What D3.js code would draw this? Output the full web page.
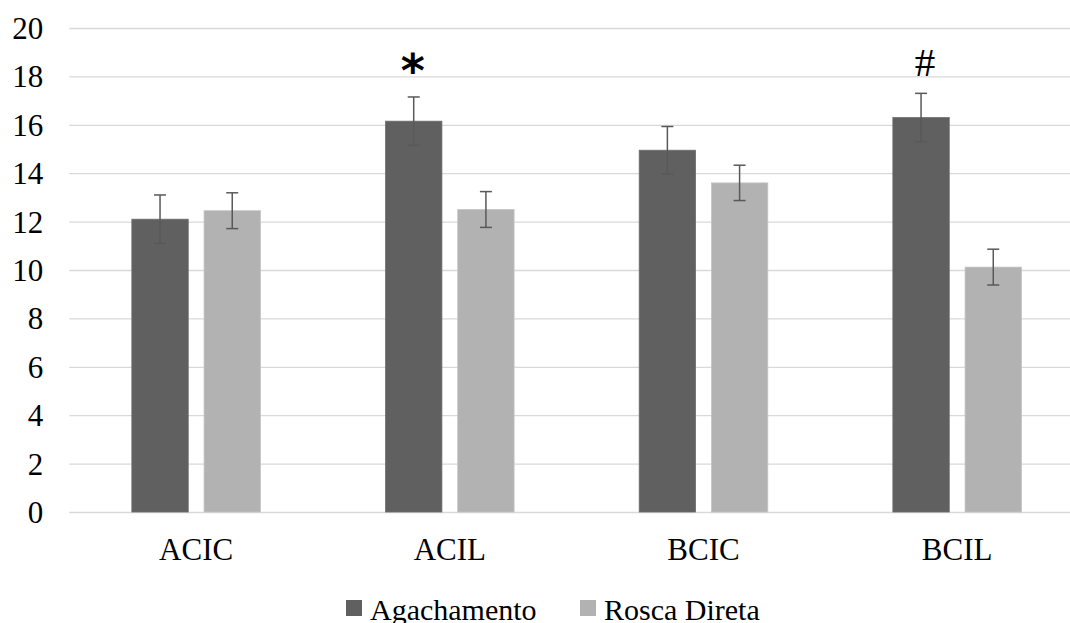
<!DOCTYPE html>
<html>
<head>
<meta charset="utf-8">
<script src="https://cdn.jsdelivr.net/npm/d3@7/dist/d3.min.js"></script>
<style>
  html, body { margin: 0; padding: 0; background: #ffffff; }
  svg { display: block; }
</style>
</head>
<body>
<svg id="chart" width="1070" height="623"></svg>
<script>
// ---- data ----
const categories = ["ACIC", "ACIL", "BCIC", "BCIL"];
const seriesNames = ["Agachamento", "Rosca Direta"];
const agachamento = [12.1, 16.15, 14.95, 16.3];
const agachamentoErr = [1.0, 1.0, 0.98, 1.0];
const roscaDireta = [12.45, 12.5, 13.6, 10.12];
const roscaDiretaErr = [0.74, 0.74, 0.73, 0.74];
const annotations = ["", "*", "", "#"];
const yTicks = [0, 2, 4, 6, 8, 10, 12, 14, 16, 18, 20];

// ---- layout ----
const svg = d3.select("#chart");
const plotLeft = 69.3, plotRight = 1084, plotTop = 28, plotBottom = 512;
const colors = { "Agachamento": "#606060", "Rosca Direta": "#b2b2b2" };
const serif = "'Liberation Serif', 'Times New Roman', serif";

const y = d3.scaleLinear().domain([0, 20]).range([plotBottom, plotTop]);
const x0 = d3.scaleBand().domain(categories).range([plotLeft, plotRight]).paddingInner(0).paddingOuter(0);
const x1 = d3.scaleBand().domain(seriesNames).range([-64.3, 64.3]).paddingInner(0.219).paddingOuter(0);

// gridlines + y labels
const yAxis = d3.axisLeft(y).tickValues(yTicks).tickSize(-(1070 - plotLeft)).tickPadding(26);
const gy = svg.append("g").attr("transform", `translate(${plotLeft},0)`).call(yAxis)
  .attr("font-family", serif).attr("font-size", 31);
gy.select(".domain").remove();
gy.selectAll(".tick line").attr("stroke", "#d9d9d9").attr("stroke-width", 1.3);
gy.selectAll(".tick text")
  .attr("fill", "#000").style("font-family", serif).style("font-size", "31px")
  .attr("dy", "0.34em");

// x labels
const xAxis = d3.axisBottom(x0).tickSize(0).tickPadding(0);
const gx = svg.append("g").attr("transform", `translate(0,${plotBottom})`).call(xAxis)
  .attr("font-family", serif).attr("font-size", 31);
gx.select(".domain").remove();
gx.selectAll(".tick text")
  .attr("fill", "#000").style("font-family", serif).style("font-size", "31px")
  .attr("dy", 0).attr("y", 48);

// bars
const data = categories.map((c, i) => ({
  cat: c,
  vals: [
    { s: "Agachamento", v: agachamento[i], e: agachamentoErr[i] },
    { s: "Rosca Direta", v: roscaDireta[i], e: roscaDiretaErr[i] }
  ],
  note: annotations[i]
}));

const groups = svg.append("g").selectAll("g").data(data).join("g")
  .attr("transform", d => `translate(${x0(d.cat) + x0.bandwidth() / 2},0)`);

groups.selectAll("rect").data(d => d.vals).join("rect")
  .attr("x", d => x1(d.s))
  .attr("width", x1.bandwidth())
  .attr("y", d => y(d.v))
  .attr("height", d => y(0) - y(d.v))
  .attr("fill", d => colors[d.s])
  .attr("stroke", d => d.s === "Agachamento" ? "#6e6e6e" : "#c4c4c4")
  .attr("stroke-width", 0.8);

// error bars
const eb = groups.selectAll("g.err").data(d => d.vals).join("g").attr("class", "err")
  .attr("transform", d => `translate(${x1(d.s) + x1.bandwidth() / 2},0)`);
eb.append("line")
  .attr("x1", 0).attr("x2", 0)
  .attr("y1", d => y(d.v + d.e)).attr("y2", d => y(d.v - d.e))
  .attr("stroke", "#595959").attr("stroke-width", 1.5);
eb.append("line")
  .attr("x1", -6).attr("x2", 6)
  .attr("y1", d => y(d.v + d.e)).attr("y2", d => y(d.v + d.e))
  .attr("stroke", "#595959").attr("stroke-width", 1.5);
eb.append("line")
  .attr("x1", -6).attr("x2", 6)
  .attr("y1", d => y(d.v - d.e)).attr("y2", d => y(d.v - d.e))
  .attr("stroke", "#595959").attr("stroke-width", 1.5);

// annotations
groups.filter(d => d.note === "*").append("text")
  .attr("x", x1("Agachamento") + x1.bandwidth() / 2 - 1)
  .attr("y", d => y(d.vals[0].v + d.vals[0].e) - 10)
  .attr("text-anchor", "middle")
  .attr("font-family", "'DejaVu Sans', sans-serif").attr("font-weight", "bold")
  .attr("font-size", 46).attr("fill", "#000")
  .text(d => d.note);
groups.filter(d => d.note === "#").append("text")
  .attr("x", x1("Agachamento") + x1.bandwidth() / 2 + 4)
  .attr("y", d => y(d.vals[0].v + d.vals[0].e) - 17)
  .attr("text-anchor", "middle")
  .attr("font-family", serif)
  .attr("font-size", 41).attr("fill", "#000")
  .text(d => d.note);

// legend
const legendX = [346, 580];
const lg = svg.append("g").selectAll("g").data(seriesNames).join("g")
  .attr("transform", (d, i) => `translate(${legendX[i]},600)`);
lg.append("rect").attr("width", 16).attr("height", 16).attr("fill", d => colors[d]);
lg.append("text").attr("x", 24).attr("y", 19.5)
  .attr("font-family", serif).attr("font-size", 30).attr("fill", "#000")
  .text(d => d);
</script>
</body>
</html>
